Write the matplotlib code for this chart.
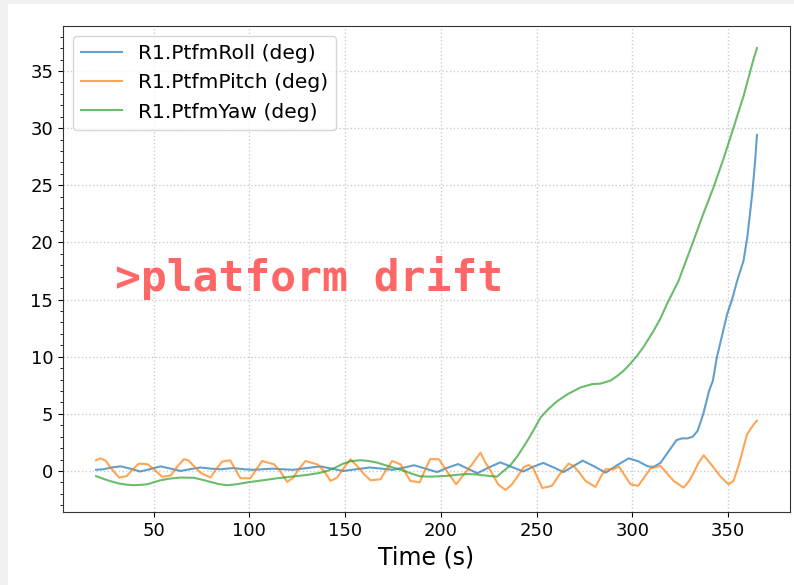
import numpy as np
import matplotlib
matplotlib.use("Agg")
import matplotlib.pyplot as plt
from matplotlib.patches import Rectangle
from matplotlib.ticker import MultipleLocator

# Platform motion channels read from the simulation output
t_roll = [20, 24, 28, 32.8, 38, 43, 48, 53.6, 59, 64, 69, 74.5, 80, 85, 91.7, 97, 102,
          107, 112, 117, 123, 130, 137, 143, 149, 156, 163, 169, 175, 181, 186, 192, 198,
          203, 209, 214, 219, 225, 231, 237, 243, 248, 253.5, 259, 264, 269, 274, 280,
          286, 292, 298, 303, 308, 311, 314.6, 318, 323, 326, 328.7, 331.5, 334, 337,
          340, 342, 344, 347, 349.4, 352, 354.6, 358, 360, 362.5, 364, 365]
roll = [0.1, 0.15, 0.3, 0.4, 0.2, -0.05, 0.15, 0.4, 0.2, 0.0, 0.15, 0.3, 0.2, 0.15, 0.25,
        0.15, 0.1, 0.15, 0.2, 0.15, 0.1, 0.25, 0.4, 0.2, 0.0, 0.15, 0.3, 0.2, 0.1, 0.3, 0.5,
        0.2, -0.1, 0.25, 0.6, 0.2, -0.2, 0.3, 0.75, 0.35, -0.05, 0.35, 0.7, 0.3, -0.1, 0.4,
        0.9, 0.4, -0.15, 0.5, 1.1, 0.85, 0.4, 0.35, 0.7, 1.5, 2.7, 2.85, 2.85, 3.0, 3.5, 5.0,
        7.0, 7.9, 9.9, 12.0, 13.7, 15.0, 16.6, 18.4, 20.5, 24.2, 27.0, 29.4]

t_pitch = [20, 22.3, 25, 28, 32, 36, 39, 42.3, 47, 50.5, 54.5, 59, 62, 65.8, 68, 71, 74.5,
           79.7, 82.5, 85.8, 90, 92.5, 95.4, 100.6, 103.5, 106.7, 112.9, 116, 119.8, 123,
           126, 129.3, 135.4, 139, 142.4, 145.9, 149.5, 152.8, 157, 160, 163.3, 168.5,
           171.5, 174.6, 179, 184, 189, 191.5, 194.5, 199, 203, 208, 212, 216.3, 220.7,
           223, 226, 230, 233.7, 237, 240, 243.3, 245.9, 248, 250.5, 253, 258, 262, 266.7,
           269.3, 272.5, 275.5, 280.7, 283.5, 286, 290, 293, 296, 299, 303, 306, 309.5,
           314.6, 318, 321.5, 326.7, 329.5, 332, 334.5, 337.2, 342.4, 346, 350.2, 352.8,
           356, 359.8, 363, 365]
pitch = [0.93, 1.1, 0.9, 0.2, -0.58, -0.45, 0.1, 0.64, 0.58, 0.1, -0.52, -0.4, 0.3, 1.02,
         0.95, 0.44, -0.15, -0.58, 0.1, 0.82, 0.93, 0.2, -0.64, -0.64, 0.1, 0.87, 0.58, 0.0,
         -0.96, -0.58, 0.2, 0.87, 0.58, 0.0, -0.87, -0.58, 0.3, 1.02, 0.3, -0.3, -0.82,
         -0.73, 0.1, 0.87, 0.58, -0.87, -1.0, 0.0, 1.05, 1.02, 0.0, -1.17, -0.3, 0.58, 1.6,
         0.8, 0.0, -1.2, -1.66, -1.2, -0.5, 0.35, 0.52, 0.3, -0.6, -1.5, -1.3, -0.3, 0.64,
         0.44, -0.2, -0.87, -1.4, -0.5, 0.15, 0.15, 0.38, -0.4, -1.17, -1.3, -0.6, 0.23,
         0.44, -0.2, -0.87, -1.46, -0.9, -0.15, 0.7, 1.37, 0.3, -0.5, -1.17, -0.87, 0.8,
         3.2, 4.0, 4.4]

t_yaw = [20, 24, 27.6, 32, 36, 39.6, 43, 46.7, 50, 53.6, 58, 64, 71, 75, 79.7, 84, 88.5,
         94, 99, 107, 114.6, 122, 130, 136, 140.6, 145, 149, 153, 158, 162, 166.7, 171,
         175, 180, 185, 189, 195, 201, 205, 209, 213.7, 218, 223, 229.4, 232, 236, 240,
         245, 248.5, 252, 256, 260.7, 266, 272.8, 279, 283.3, 288.5, 292, 295.3, 299,
         302.5, 306, 311, 314.5, 318, 321, 324, 328, 331.8, 337, 342.3, 347.5, 352.7, 358,
         363, 365]
yaw = [-0.45, -0.7, -0.9, -1.1, -1.2, -1.25, -1.22, -1.17, -1.0, -0.82, -0.68, -0.58, -0.6,
       -0.75, -0.96, -1.15, -1.25, -1.15, -1.0, -0.82, -0.64, -0.5, -0.35, -0.2, 0.0, 0.3,
       0.64, 0.85, 0.94, 0.88, 0.73, 0.5, 0.3, 0.05, -0.25, -0.47, -0.5, -0.45, -0.4,
       -0.33, -0.27, -0.3, -0.4, -0.5, -0.1, 0.44, 1.3, 2.6, 3.6, 4.67, 5.4, 6.1, 6.7, 7.3,
       7.6, 7.64, 7.9, 8.3, 8.75, 9.4, 10.1, 10.9, 12.25, 13.3, 14.6, 15.6, 16.6, 18.4,
       20.1, 22.5, 24.8, 27.3, 30.0, 32.8, 35.9, 37.0]

fig = plt.figure(figsize=(7.94, 5.85), dpi=100, facecolor='#f0f0f0')
fig.patches.append(Rectangle((8 / 794, 0), 1, 1 - 4 / 585, transform=fig.transFigure,
                             facecolor='white', edgecolor='none', zorder=-10))
ax = fig.add_axes([63 / 794, 1 - 512 / 585, (790 - 63) / 794, (512 - 26) / 585])

ax.plot(t_roll, roll, color='tab:blue', alpha=0.7, lw=1.5, label='R1.PtfmRoll (deg)')
ax.plot(t_pitch, pitch, color='tab:orange', alpha=0.7, lw=1.5, label='R1.PtfmPitch (deg)')
ax.plot(t_yaw, yaw, color='tab:green', alpha=0.7, lw=1.5, label='R1.PtfmYaw (deg)')

ax.set_xlabel('Time (s)', fontsize=17)
ax.yaxis.set_minor_locator(MultipleLocator(1))
ax.tick_params(axis='both', which='major', labelsize=13)
ax.grid(True, which='major', linestyle=':', color='#cccccc', linewidth=1)
for s in ax.spines.values():
    s.set_color('#333333')

ax.legend(loc='upper left', fontsize=14.6)
ax.text(30, 15, '>platform drift', color='#ff6666', fontsize=31, fontweight='bold',
        family='DejaVu Sans Mono', va='bottom', ha='left')

fig.savefig('out.png', dpi=100, facecolor=fig.get_facecolor())
